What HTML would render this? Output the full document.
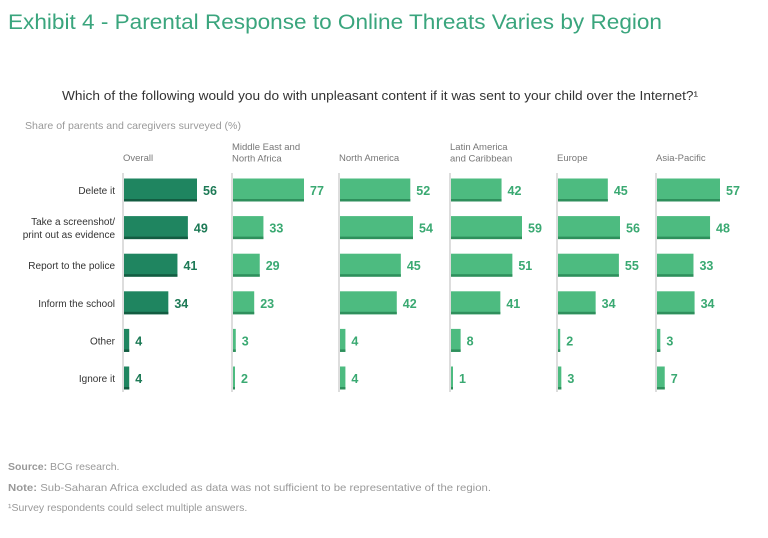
<!DOCTYPE html>
<html><head><meta charset="utf-8"><style>
body{margin:0;background:#fff;}
svg{display:block;font-family:"Liberation Sans",sans-serif;}
</style></head><body>
<svg id="chart" width="768" height="538" viewBox="0 0 768 538">
<text x="8" y="29" font-size="21" fill="#3aa57d" textLength="654" lengthAdjust="spacingAndGlyphs">Exhibit 4 - Parental Response to Online Threats Varies by Region</text>
<text x="62" y="100" font-size="13" fill="#333" textLength="636" lengthAdjust="spacingAndGlyphs">Which of the following would you do with unpleasant content if it was sent to your child over the Internet?¹</text>
<text x="25" y="129" font-size="10.5" fill="#999" textLength="216" lengthAdjust="spacingAndGlyphs">Share of parents and caregivers surveyed (%)</text>
<g id="plot"></g>
<text x="8" y="470" font-size="10.5" fill="#999"><tspan font-weight="bold">Source:</tspan> BCG research.</text>
<text x="8" y="491" font-size="10.5" fill="#999" textLength="483" lengthAdjust="spacingAndGlyphs"><tspan font-weight="bold">Note:</tspan> Sub-Saharan Africa excluded as data was not sufficient to be representative of the region.</text>
<text x="8" y="511" font-size="10.5" fill="#999">¹Survey respondents could select multiple answers.</text>
</svg>
<script>
const categories = ["Delete it","Take a screenshot/|print out as evidence","Report to the police","Inform the school","Other","Ignore it"];
const regions = ["Overall","Middle East and|North Africa","North America","Latin America|and Caribbean","Europe","Asia-Pacific"];
const overall = [56,49,41,34,4,4];
const mena = [77,33,29,23,3,2];
const northAmerica = [52,54,45,42,4,4];
const latam = [42,59,51,41,8,1];
const europe = [45,56,55,34,2,3];
const asiaPacific = [57,48,33,34,3,7];
const series = [overall, mena, northAmerica, latam, europe, asiaPacific];

const NS = "http://www.w3.org/2000/svg";
const plot = document.getElementById("plot");
const panelX = [123,232,339,450,557,656];
const panelMaxW = [73,71,73,71,62,63];
const rowY = i => 190 + i * 37.6;
const barH = 23;
function mk(tag, attrs){const e=document.createElementNS(NS,tag);for(const k in attrs)e.setAttribute(k,attrs[k]);return e;}

categories.forEach((c,i)=>{
  const lines=c.split("|");
  const t=mk("text",{x:115,y:rowY(i)+4-(lines.length-1)*6.5,"font-size":10,fill:"#333","text-anchor":"end"});
  
  
  lines.forEach((l,k)=>{const ts=mk("tspan",{x:115,dy:k?13:0});ts.textContent=l;t.appendChild(ts);});
  plot.appendChild(t);
});

series.forEach((vals,p)=>{
  const x0=panelX[p];
  const maxV=Math.max(...vals);
  const scale=v=>v*panelMaxW[p]/maxV;
  const lines=regions[p].split("|");
  const h=mk("text",{x:x0,y:lines.length>1?150:161,"font-size":9.5,fill:"#777"});
  
  
  lines.forEach((l,k)=>{const ts=mk("tspan",{x:x0,dy:k?11.5:0});ts.textContent=l;h.appendChild(ts);});
  plot.appendChild(h);
  const ax=mk("line",{x1:x0,x2:x0,y1:173,y2:392,stroke:"#bbb","stroke-width":1});
  
  
  plot.appendChild(ax);
  const fill=p===0?"#1f8560":"#4dbb80", edge=p===0?"#135c41":"#2f8f5c", txt=p===0?"#1d7a56":"#3aa972";
  vals.forEach((v,i)=>{
    const w=Math.max(scale(v),2), y=rowY(i)-barH/2;
    const r=mk("rect",{x:x0+1,y:y,width:w,height:barH,fill:fill});
    
    
    plot.appendChild(r);
    const e=mk("rect",{x:x0+1,y:y+barH-2.5,width:w,height:2.5,fill:edge});
    
    
    plot.appendChild(e);
    const t=mk("text",{x:x0+1+w+6,y:rowY(i)+5,"font-size":12.5,"font-weight":"bold",fill:txt});
    
    
    t.textContent=v;
    plot.appendChild(t);
  });
});
</script>
</body></html>
